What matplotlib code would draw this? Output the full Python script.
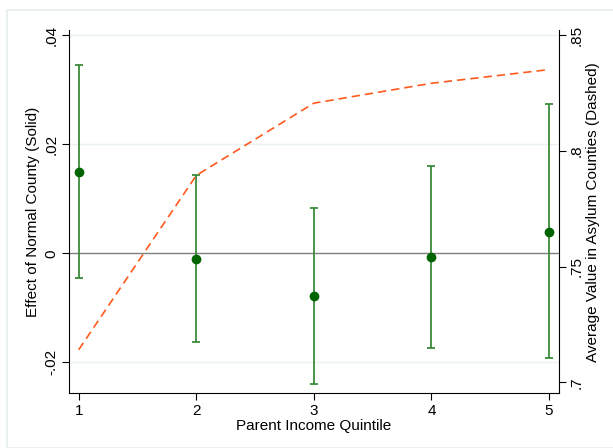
import matplotlib
matplotlib.use("Agg")
import matplotlib.pyplot as plt
from matplotlib.patches import Rectangle

plt.rcParams['font.family'] = ['Liberation Sans', 'DejaVu Sans']

quintiles = [1, 2, 3, 4, 5]
effect = [0.0150, -0.0010, -0.0079, -0.0007, 0.0040]
ci_low = [-0.0046, -0.0162, -0.0240, -0.0173, -0.0192]
ci_high = [0.0345, 0.0143, 0.0083, 0.0161, 0.0275]
asylum_avg = [0.7141, 0.7894, 0.8206, 0.8292, 0.8351]

left_ticks = [-0.02, 0, 0.02, 0.04]
left_labels = ["-.02", "0", ".02", ".04"]
right_ticks = [0.7, 0.75, 0.8, 0.85]
right_labels = [".7", ".75", ".8", ".85"]

fig = plt.figure(figsize=(6.13, 4.48), dpi=100)
fig.patches.append(Rectangle((7/613, 0.0), 1.0, 1 - 10/448, transform=fig.transFigure,
                             fill=False, edgecolor='#e6eeef', linewidth=1.2))
ax = fig.add_axes([68.7/613, 1 - 393.3/448, (559 - 68.7)/613, (393.3 - 30)/448])

for t in left_ticks:
    if t != 0:
        ax.axhline(t, color='#e9f1f2', linewidth=1.0, zorder=0)
ax.axhline(0, color='#7f7f7f', linewidth=1.0, zorder=1)

yerr = [[e - l for e, l in zip(effect, ci_low)], [h - e for e, h in zip(effect, ci_high)]]
ax.errorbar(quintiles, effect, yerr=yerr, fmt='o', color='#006400', ecolor='#3c8a3c',
            elinewidth=1.3, capsize=3.2, capthick=1.3, markersize=6, zorder=3)

ax.set_xlim(0.915, 5.085)
ax.set_ylim(-0.0257, 0.0410)
ax.set_xticks(quintiles)
ax.set_xticklabels([str(q) for q in quintiles])
ax.set_yticks(left_ticks)
ax.set_yticklabels(left_labels, rotation=90, va='center')
ax.set_xlabel("Parent Income Quintile", fontsize=11, labelpad=1)
ax.set_ylabel("Effect of Normal County (Solid)", fontsize=11, labelpad=3)

ax2 = ax.twinx()
ax2.plot(quintiles, asylum_avg, linestyle=(0, (5, 3)), color='#ff5a1e', linewidth=1.2, zorder=2)
ax2.set_ylim(0.6953, 0.8522)
ax2.set_yticks(right_ticks)
ax2.set_yticklabels(right_labels, rotation=90, va='center')
ax2.set_ylabel("Average Value in Asylum Counties (Dashed)", fontsize=11, labelpad=2)

for a in (ax, ax2):
    a.spines['top'].set_visible(False)
    a.tick_params(direction='out', length=5, width=0.8, labelsize=11, colors='black', pad=2.5)
    a.set_facecolor('none')
ax2.spines['left'].set_visible(False)
ax2.spines['bottom'].set_visible(False)
ax.spines['right'].set_visible(False)

fig.savefig("out.png", dpi=100, facecolor='white')
